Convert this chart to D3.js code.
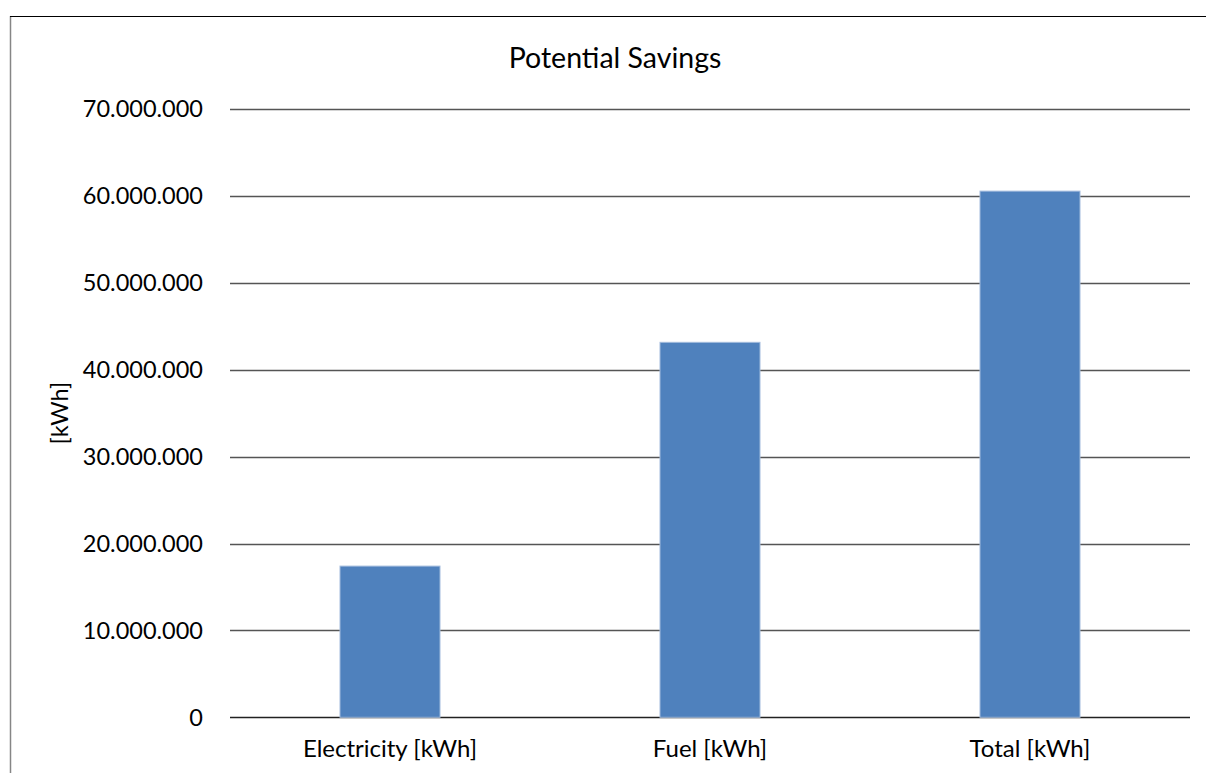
<!DOCTYPE html>
<html>
<head>
<meta charset="utf-8">
<script src="https://cdn.jsdelivr.net/npm/d3@7"></script>
<style>
  html, body { margin: 0; padding: 0; background: #fff; }
  svg { display: block; }
  text { font-family: Lato, "Open Sans", sans-serif; fill: #000; }
</style>
</head>
<body>
<svg id="chart" width="1206" height="773"></svg>
<script>
const categories = ["Electricity [kWh]", "Fuel [kWh]", "Total [kWh]"];
const values = [17400000, 43150000, 60550000];
const yTicks = [0, 10000000, 20000000, 30000000, 40000000, 50000000, 60000000, 70000000];
const title = "Potential Savings";
const yLabel = "[kWh]";

const svg = d3.select("#chart");
const W = 1206, H = 773;

// chart border (left and top visible)
svg.append("line").attr("x1", 10.5).attr("x2", 10.5).attr("y1", 16).attr("y2", H)
  .attr("stroke", "#868686").attr("stroke-width", 1.5);
svg.append("line").attr("x1", 10).attr("x2", W).attr("y1", 16.5).attr("y2", 16.5)
  .attr("stroke", "#000").attr("stroke-width", 1);

const plot = { left: 230, right: 1190, top: 109, bottom: 717.3 };

const x = d3.scaleBand().domain(categories).range([plot.left, plot.right]).paddingInner(0.6875).paddingOuter(0.34375);
const y = d3.scaleLinear().domain([0, 70000000]).range([plot.bottom, plot.top]);

const fmt = v => d3.format(",")(v).replace(/,/g, ".");

// gridlines
svg.append("g").selectAll("line").data(yTicks).join("line")
  .attr("x1", plot.left).attr("x2", plot.right)
  .attr("y1", d => Math.round(y(d)) + 0.5).attr("y2", d => Math.round(y(d)) + 0.5)
  .attr("stroke", d => d === 0 ? "#222" : "#555").attr("stroke-width", 1.3);

// y tick labels
svg.append("g").selectAll("text").data(yTicks).join("text")
  .attr("x", 203).attr("y", d => y(d)).attr("dy", "0.35em")
  .attr("text-anchor", "end").attr("font-size", 23.5)
  .text(d => fmt(d));

// bars
svg.append("g").selectAll("rect").data(values).join("rect")
  .attr("x", (d, i) => x(categories[i]))
  .attr("y", d => y(d))
  .attr("width", x.bandwidth())
  .attr("height", d => y(0) - y(d))
  .attr("fill", "#4F81BD")
  .attr("stroke", "#A3BCDD").attr("stroke-width", 1);

// x labels
svg.append("g").selectAll("text").data(categories).join("text")
  .attr("x", d => x(d) + x.bandwidth() / 2).attr("y", 757)
  .attr("text-anchor", "middle").attr("font-size", 24)
  .text(d => d);

// title
svg.append("text").attr("x", 615).attr("y", 68)
  .attr("text-anchor", "middle").attr("font-size", 28.5).text(title);

// y axis label
svg.append("text").attr("transform", `translate(68,${(plot.top + plot.bottom) / 2}) rotate(-90)`)
  .attr("text-anchor", "middle").attr("font-size", 23.5).text(yLabel);
</script>
</body>
</html>
